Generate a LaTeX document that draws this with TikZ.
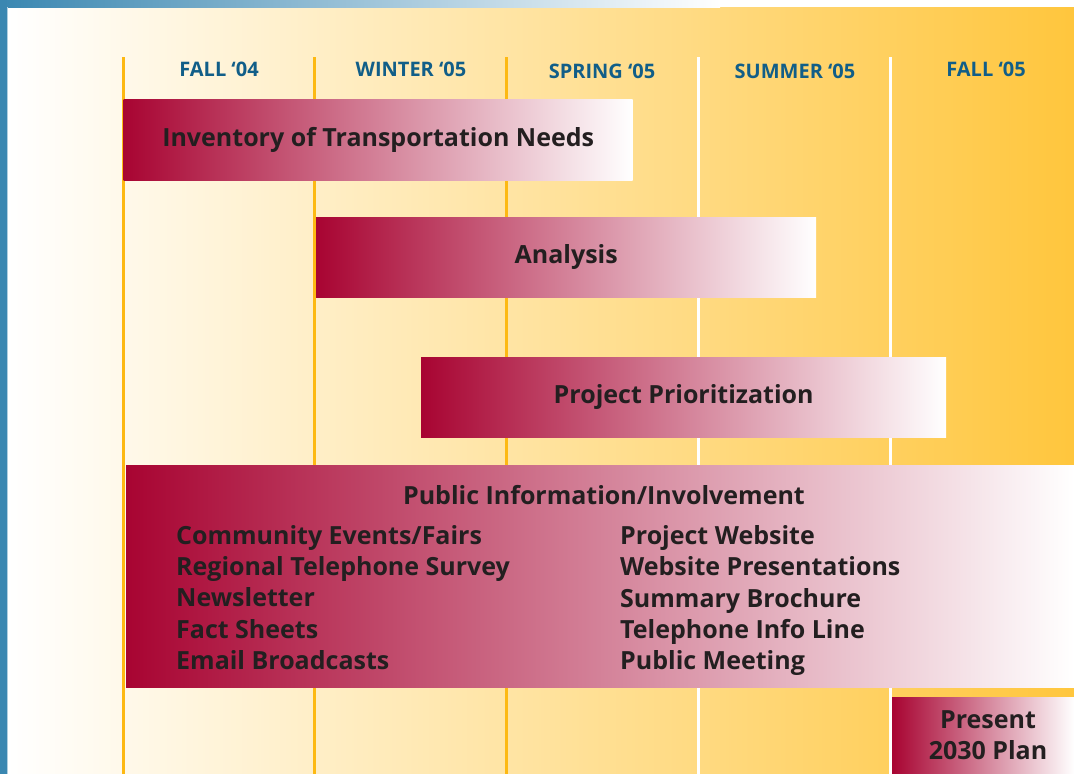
\documentclass[tikz,border=0pt]{standalone}
\usepackage{fontspec}
\setsansfont{Open Sans}
\usepackage{xcolor}
\usetikzlibrary{positioning}

\definecolor{edgeblue}{HTML}{3A87B1}
\definecolor{headblue}{HTML}{115E88}
\definecolor{crimson}{HTML}{A80432}
\definecolor{salmon}{HTML}{C8706C}
\definecolor{textdark}{HTML}{231F20}
\definecolor{gridline}{HTML}{FDB913}
\definecolor{bgorange}{HTML}{FFC63D}

\tikzset{
  bar/.style={shade, shading angle=90, left color=crimson, middle color=salmon,
    right color=white, minimum height=#1, inner sep=0pt, anchor=north west},
  bartext/.style={font=\sffamily\bfseries\fontsize{25}{31.2}\selectfont,
    text=textdark, inner sep=0pt},
  season/.style={font=\sffamily\bfseries\fontsize{20}{24}\selectfont,
    text=headblue, inner sep=0pt}
}

\begin{document}
\begin{tikzpicture}[x=1pt,y=-1pt]
\useasboundingbox (0,0) rectangle (1074,774);

% Background and frame
\shade[left color=white, right color=bgorange] (8,7) rectangle (1074,774);
\shade[left color=edgeblue, right color=white] (0,0) rectangle (720,7);
\fill[edgeblue] (0,0) rectangle (7,774);
\fill[edgeblue!40] (7,7) rectangle (8,774);

% Season columns
\foreach \x/\col in {123/gridline, 314/gridline, 506/gridline, 698/white, 890/white} {
    \draw[line width=3pt, \col] (\x,57) -- (\x,774);
}
\foreach \x/\y/\label [count=\i] in {219/69/{FALL ‘04}, 411/69/{WINTER ‘05},
    602/71/{SPRING ‘05}, 795/71/{SUMMER ‘05}, 986/69/{FALL ‘05}} {
    \node[season] (season\i) at (\x,\y) {\label};
}

% Task bars
\node[bar=81pt, minimum width=509pt] (inventory) at (123.5,99) {};
\node[bartext] (inventorytext) at (inventory.center) {Inventory of Transportation Needs};

\node[bar=80pt, minimum width=500pt] (analysis) at (316,217) {};
\node[bartext] (analysistext) at (analysis.center) {Analysis};

\node[bar=80pt, minimum width=525pt] (priority) at (421,357) {};
\node[bartext] (prioritytext) at (priority.center) {Project Prioritization};

% Public involvement
\node[bar=222pt, minimum width=948pt] (public) at (126,465) {};
\node[bartext] (publictitle) at (604,495) {Public Information/Involvement};
\node[bartext, align=left, anchor=west] (publicleft) at (176,597.5) {
Community Events/Fairs\\
Regional Telephone Survey\\
Newsletter\\
Fact Sheets\\
Email Broadcasts
};
\node[bartext, align=left, anchor=west] (publicright) at (620,600.5) {
Project Website\\
Website Presentations\\
Summary Brochure\\
Telephone Info Line\\
Public Meeting
};

% Final step
\node[bar=77pt, minimum width=182pt] (present) at (892,697) {};
\node[bartext, align=center] (presenttext) at (988,735.5) {Present\\2030 Plan};

\end{tikzpicture}
\end{document}
